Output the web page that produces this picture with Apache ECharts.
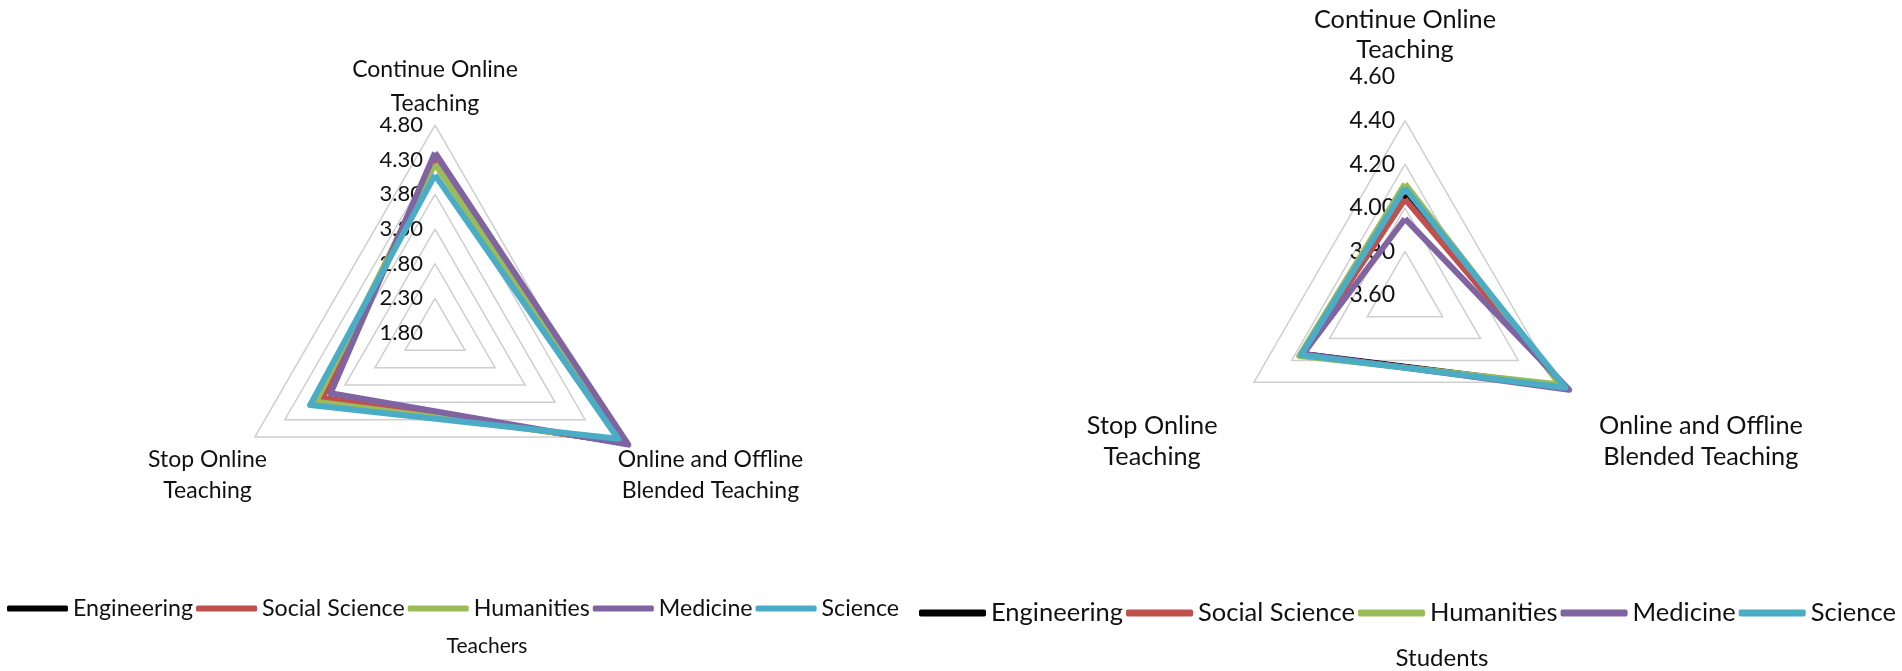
<!DOCTYPE html>
<html>
<head>
<meta charset="utf-8">
<script src="https://cdn.jsdelivr.net/npm/echarts@6/dist/echarts.min.js"></script>
<style>
html,body{margin:0;padding:0;background:#fff;}
#chart{width:1902px;height:671px;}
</style>
</head>
<body>
<div id="chart"></div>
<script>
// ---- data ----
const indicatorNames = ['Continue Online\nTeaching', 'Stop Online\nTeaching', 'Online and Offline\nBlended Teaching'];
const seriesNames = ['Engineering', 'Social Science', 'Humanities', 'Medicine', 'Science'];

// Teachers (order: Continue, Stop, Online and Offline)
const teacherEngineering   = [4.30, 3.68, 4.97];
const teacherSocialScience = [4.32, 3.68, 4.97];
const teacherHumanities    = [4.24, 3.78, 4.92];
const teacherMedicine      = [4.40, 3.54, 5.02];
const teacherScience       = [4.08, 3.88, 4.85];

// Students
const studentEngineering   = [4.06, 4.14, 4.44];
const studentSocialScience = [4.04, 4.15, 4.44];
const studentHumanities    = [4.11, 4.16, 4.42];
const studentMedicine      = [3.95, 4.14, 4.47];
const studentScience       = [4.09, 4.15, 4.45];

const teacherAxis = {min: 1.8, max: 4.8, splitNumber: 6};
const studentAxis = {min: 3.6, max: 4.6, splitNumber: 5};

const chartTitles = ['Teachers', 'Students'];

// ---- styles ----
const colors = ['#000000', '#C0504D', '#9BBB59', '#8064A2', '#4BACC6'];
const FONT = 'Lato, "Open Sans", sans-serif';

const teacherData = [teacherEngineering, teacherSocialScience, teacherHumanities, teacherMedicine, teacherScience];
const studentData = [studentEngineering, studentSocialScience, studentHumanities, studentMedicine, studentScience];

function indicators(axis, gaps, labelSize, labelMargin, moveOverlap) {
  return indicatorNames.map((n, i) => {
    const o = {name: n, min: axis.min, max: axis.max, nameGap: gaps[i]};
    if (i === 0) {
      o.axisLabel = {show: true, fontFamily: FONT, fontSize: labelSize, color: '#111',
        formatter: v => Number(v).toFixed(2), margin: labelMargin};
      o.nameMoveOverlap = moveOverlap;
    }
    return o;
  });
}

function radarCfg(center, radius, axis, gaps, nameSize, lhs, labelSize, labelMargin, splitColors, pads, moveOverlap) {
  const rs = (lh, pad) => ({fontFamily: FONT, fontSize: nameSize, lineHeight: lh, color: '#111', padding: pad});
  return {
    center: center,
    radius: radius,
    startAngle: 90,
    splitNumber: axis.splitNumber,
    shape: 'polygon',
    indicator: indicators(axis, gaps, labelSize, labelMargin, moveOverlap),
    axisName: {
      color: '#111', fontFamily: FONT, fontSize: nameSize, lineHeight: lhs.s, align: 'center',
      formatter: function (name) {
        const key = name.indexOf('Blended') >= 0 ? 'o' : (name.indexOf('Stop') >= 0 ? 's' : 'c');
        return name.split('\n').map(l => '{' + key + '|' + l + '}').join('\n');
      },
      rich: {c: rs(lhs.c, pads.c), s: rs(lhs.s, pads.s), o: rs(lhs.s, pads.o)}
    },
    axisLine: {show: false},
    axisTick: {show: false},
    axisLabel: {show: false},
    splitArea: {show: false},
    splitLine: {lineStyle: {color: splitColors, width: 1.5}}
  };
}

const series = [];
seriesNames.forEach((name, i) => {
  series.push({
    type: 'radar', radarIndex: 0, name: name, symbol: 'none', z: 2 + i,
    lineStyle: {color: colors[i], width: 6, join: 'round'},
    itemStyle: {color: colors[i]},
    data: [{value: teacherData[i], name: name}]
  });
});
seriesNames.forEach((name, i) => {
  series.push({
    type: 'radar', radarIndex: 1, name: name, symbol: 'none', z: 2 + i,
    lineStyle: {color: colors[i], width: 6, join: 'round'},
    itemStyle: {color: colors[i]},
    data: [{value: studentData[i], name: name}]
  });
});

const grey = '#cfcfcf';
const option = {
  animation: false,
  backgroundColor: '#fff',
  color: colors,
  title: [
    {text: chartTitles[0], left: 482, top: 631, textAlign: 'center',
      textStyle: {fontFamily: FONT, fontSize: 21, fontWeight: 'normal', color: '#111'}},
    {text: chartTitles[1], left: 1437, top: 641, textAlign: 'center',
      textStyle: {fontFamily: FONT, fontSize: 24, fontWeight: 'normal', color: '#111'}}
  ],
  legend: [
    {data: seriesNames, left: 2, top: 592, itemWidth: 61, itemHeight: 6, itemGap: 3, icon: 'roundRect',
      textStyle: {fontFamily: FONT, fontSize: 23.2, color: '#111'}},
    {data: seriesNames, left: 914, top: 595, itemWidth: 67, itemHeight: 7, itemGap: 3, icon: 'roundRect',
      textStyle: {fontFamily: FONT, fontSize: 25.5, color: '#111'}}
  ],
  radar: [
    radarCfg([435, 333], 208, teacherAxis, [4, 76, 76], 23, {c: 34, s: 31}, 22, 12, [grey],
      {c: [0, 0, 0, 0], s: [0, 0, 0, 37], o: [0, 0, 0, 59]}, false),
    radarCfg([1405, 295], 218, studentAxis, [12, 74, 74], 25.3, {c: 30, s: 31}, 23, 10,
      [grey, grey, grey, grey, grey, 'rgba(0,0,0,0)'],
      {c: [0, 0, 0, 0], s: [0, 0, 0, 0], o: [0, 0, 0, 86]}, true)
  ],
  series: series
};

const chart = echarts.init(document.getElementById('chart'), null, {renderer: 'canvas'});
chart.setOption(option);
</script>
</body>
</html>
